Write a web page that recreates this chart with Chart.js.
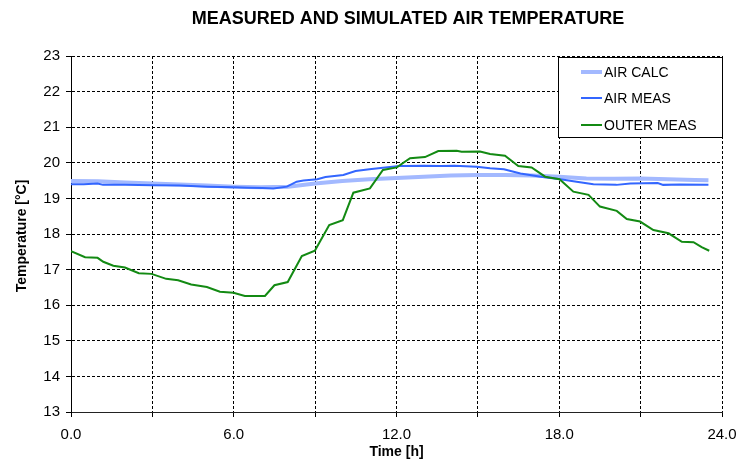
<!DOCTYPE html>
<html>
<head>
<meta charset="utf-8">
<script src="https://cdn.jsdelivr.net/npm/chart.js@4/dist/chart.umd.min.js"></script>
<style>
html,body{margin:0;padding:0;background:#fff;}
#wrap{width:740px;height:463px;position:relative;}
</style>
</head>
<body>
<div id="wrap"><canvas id="c" width="740" height="463"></canvas></div>
<script>
// ---- data ----
const chartTitle = "MEASURED AND SIMULATED AIR TEMPERATURE";
const xTitle = "Time [h]";
const yTitle = "Temperature [°C]";
const seriesNames = ["AIR CALC", "AIR MEAS", "OUTER MEAS"];

const calcTime = [0,1,2,3,4,5,6,7,8,9,10,11,12,13,14,15,16,17,18,19,20,21,22,23,23.5];
const calcTemp = [19.49,19.48,19.45,19.42,19.39,19.36,19.33,19.31,19.33,19.42,19.49,19.54,19.57,19.61,19.64,19.66,19.66,19.64,19.61,19.56,19.55,19.56,19.54,19.52,19.51];

const measTime = [0,0.47,0.98,1.18,1.99,3.0,4.01,5.03,6.04,6.54,7.05,7.46,7.96,8.32,8.57,9.08,9.38,10.04,10.49,11.0,11.5,12.11,13.02,13.63,14.14,14.95,15.45,15.96,16.57,17.38,18.04,18.64,19.26,20.11,20.62,21.63,21.83,22.44,23.5];
const measTemp = [19.40,19.40,19.42,19.38,19.38,19.37,19.36,19.33,19.31,19.30,19.29,19.28,19.33,19.47,19.50,19.54,19.60,19.66,19.77,19.82,19.86,19.91,19.92,19.91,19.92,19.89,19.85,19.82,19.70,19.60,19.54,19.47,19.40,19.38,19.42,19.43,19.38,19.39,19.38];

const outerTime = [0,0.52,0.98,1.19,1.56,1.99,2.5,2.97,3.51,3.95,4.43,5.01,5.49,5.99,6.41,7.15,7.5,7.99,8.51,8.99,9.52,10.02,10.41,11.02,11.5,12.01,12.5,13.05,13.54,14.22,14.4,15.08,15.45,16.0,16.49,16.98,17.48,18.01,18.52,19.08,19.5,20.12,20.49,20.98,21.47,22.03,22.52,22.95,23.25,23.53];
const outerTemp = [17.52,17.35,17.33,17.22,17.11,17.06,16.90,16.88,16.74,16.70,16.58,16.51,16.38,16.35,16.26,16.26,16.56,16.65,17.38,17.53,18.25,18.39,19.16,19.28,19.80,19.87,20.13,20.16,20.33,20.34,20.31,20.32,20.25,20.20,19.91,19.87,19.61,19.54,19.19,19.10,18.77,18.65,18.42,18.35,18.11,18.02,17.78,17.77,17.63,17.53];

const xMin = 0, xMax = 24, xStep = 3, xLabelEvery = 6;
const yMin = 13, yMax = 23, yStep = 1;

// ---- build ----
const pts = (xs, ys) => xs.map((x, i) => ({x: x, y: ys[i]}));
const colors = ["#a3b9ff", "#3366ff", "#138a13"];
const widths = [4, 2, 2];

const FONT = "'Liberation Sans', Arial, sans-serif";

const overlayPlugin = {
  id: 'overlay',
  afterDraw(chart) {
    const ctx = chart.ctx;
    const ca = chart.chartArea;
    ctx.save();
    // title
    ctx.fillStyle = '#000';
    ctx.font = "bold 18px " + FONT;
    ctx.textAlign = 'center';
    ctx.textBaseline = 'middle';
    ctx.fillText(chartTitle, 408, 19);
    // axis titles
    ctx.font = "bold 14px " + FONT;
    ctx.fillText(xTitle, (ca.left + ca.right) / 2, 452);
    ctx.save();
    ctx.translate(22, (ca.top + ca.bottom) / 2 + 2);
    ctx.rotate(-Math.PI / 2);
    ctx.font = "bold 14px " + FONT;
    ctx.fillText(yTitle, 0, 0);
    ctx.restore();
    // legend box
    const bx = 558, by = 57, bw = 164, bh = 80;
    ctx.fillStyle = '#fff';
    ctx.fillRect(bx, by, bw, bh);
    ctx.strokeStyle = '#000';
    ctx.lineWidth = 1;
    ctx.strokeRect(bx + 0.5, by + 0.5, bw, bh);
    const rows = [72, 98, 125];
    ctx.font = "14px " + FONT;
    ctx.textAlign = 'left';
    for (let i = 0; i < seriesNames.length; i++) {
      ctx.strokeStyle = colors[i];
      ctx.lineWidth = widths[i];
      ctx.beginPath();
      ctx.moveTo(581, rows[i]);
      ctx.lineTo(602, rows[i]);
      ctx.stroke();
      ctx.fillStyle = '#000';
      ctx.fillText(seriesNames[i], 604, rows[i] + 1);
    }
    ctx.restore();
  }
};

const ds = [
  {label: seriesNames[0], data: pts(calcTime, calcTemp), borderColor: colors[0], borderWidth: widths[0], order: 3},
  {label: seriesNames[1], data: pts(measTime, measTemp), borderColor: colors[1], borderWidth: widths[1], order: 2},
  {label: seriesNames[2], data: pts(outerTime, outerTemp), borderColor: colors[2], borderWidth: widths[2], order: 1}
].map(d => Object.assign(d, {pointRadius: 0, fill: false, tension: 0, showLine: true}));

new Chart(document.getElementById('c'), {
  type: 'scatter',
  data: {datasets: ds},
  plugins: [overlayPlugin],
  options: {
    responsive: false,
    animation: false,
    events: [],
    layout: {padding: {top: 56, right: 18, left: 0, bottom: 0}},
    plugins: {legend: {display: false}, title: {display: false}, tooltip: {enabled: false}},
    scales: {
      x: {
        type: 'linear', min: xMin, max: xMax,
        afterFit(s) { s.height = 51; s.paddingLeft = 0; s.paddingRight = 0; },
        ticks: {
          stepSize: xStep, autoSkip: false, maxRotation: 0, padding: 9,
          color: '#000', font: {family: FONT, size: 15},
          callback: v => (v % xLabelEvery === 0 ? v.toFixed(1) : '')
        },
        grid: {color: '#000', lineWidth: 1, tickLength: 5, tickColor: '#000'},
        border: {color: '#222', width: 1, dash: [3, 2]}
      },
      y: {
        type: 'linear', min: yMin, max: yMax,
        afterFit(s) { s.width = 71; },
        ticks: {stepSize: yStep, color: '#000', font: {family: FONT, size: 15}, padding: 6},
        grid: {color: '#000', lineWidth: 1, tickLength: 5, tickColor: '#000'},
        border: {color: '#000', width: 1, dash: [3, 2]}
      }
    }
  }
});
</script>
</body>
</html>
